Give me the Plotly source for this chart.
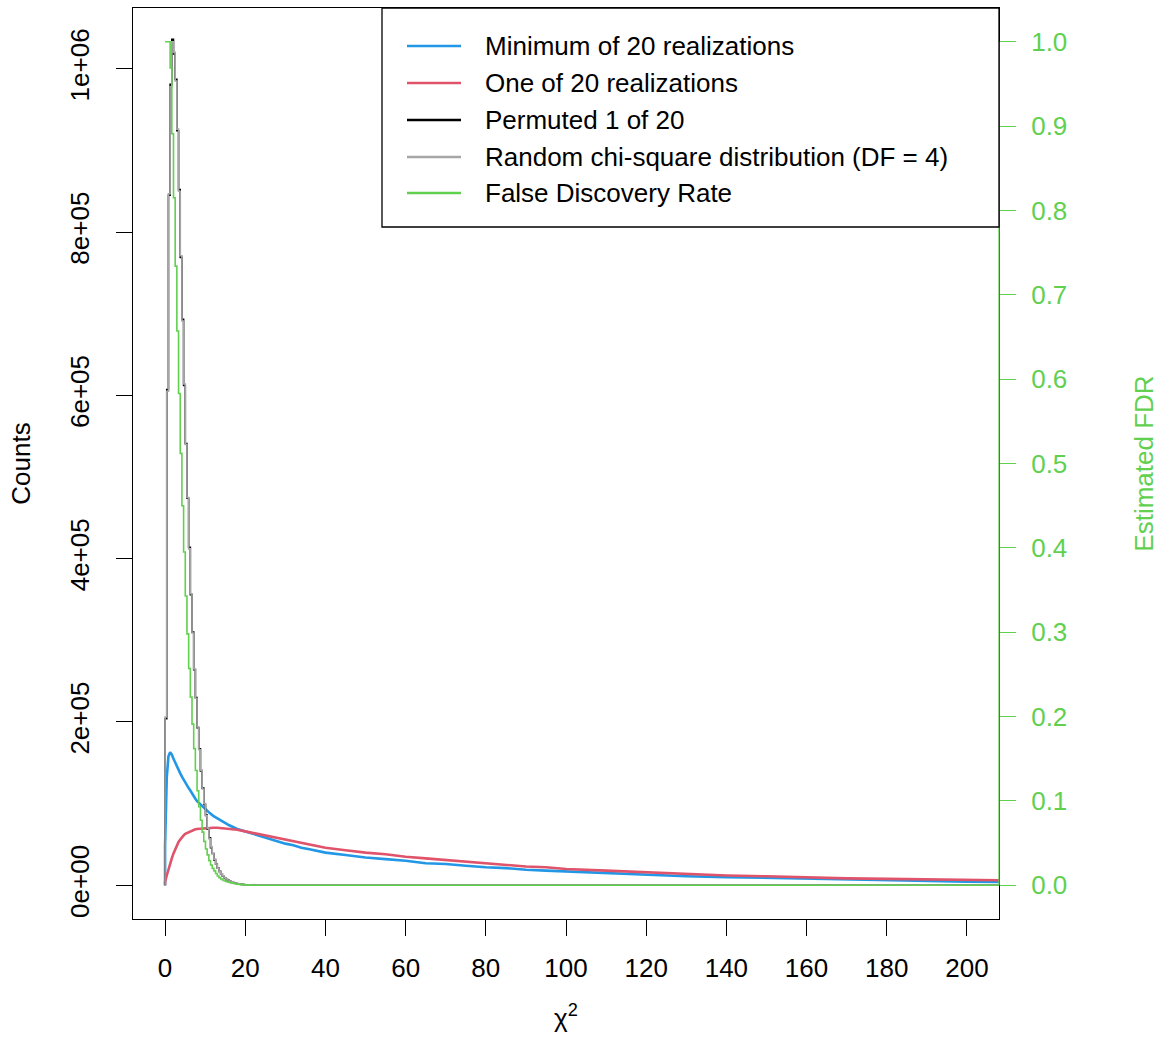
import plotly.graph_objects as go

# Histogram break spacing on the chi-square axis
BIN_WIDTH = 0.42
X_END = 210

# Spike-shaped distributions: counts per bin, bins starting at chi^2 = 0
random_chisq_counts = [206000, 605000, 847000, 978000, 1033000, 1020000, 985000, 926000,
                       850000, 771000, 691000, 614000, 540000, 475000, 412000, 357000,
                       309000, 265000, 229000, 194000, 166000, 141000, 118000, 100000,
                       85000, 70000, 57000, 47000, 39000, 32000, 26000, 21000, 17000,
                       14000, 11500, 9500, 7800, 6400, 5200, 4200, 3400, 2800, 2300,
                       1800, 1500, 1200, 1000, 800, 600, 500, 400, 300, 250, 200, 150,
                       100, 0]
permuted_counts = [204000, 607000, 845000, 981000, 1036000, 1018000, 987000, 924000,
                   852000, 769000, 693000, 612000, 541000, 474000, 414000, 356000,
                   310000, 264000, 230000, 193000, 167000, 140000, 119000, 99000,
                   86000, 69000, 58000, 46000, 39000, 31000, 26000, 21000, 17000,
                   14000, 11000, 9300, 7600, 6300, 5100, 4100, 3300, 2700, 2200,
                   1800, 1400, 1100, 900, 700, 600, 500, 400, 300, 200, 150, 100, 50, 0]
fdr_values = [1.0, 1.0, 1.0, 0.969, 0.891, 0.815, 0.734, 0.657, 0.583, 0.512, 0.450,
              0.395, 0.343, 0.298, 0.257, 0.223, 0.191, 0.162, 0.136, 0.112, 0.093,
              0.077, 0.063, 0.052, 0.043, 0.036, 0.029, 0.024, 0.020, 0.017, 0.014,
              0.011, 0.009, 0.0075, 0.0063, 0.0053, 0.0045, 0.0038, 0.0032, 0.0027,
              0.0023, 0.0019, 0.0016, 0.0013, 0.0011, 0.0009, 0.0007, 0.0005, 0.0004,
              0.0003, 0.0002, 0.0001, 0.0]

# Long-tailed distributions: chi^2 positions and counts
smooth_x = [0, 0.42, 0.84, 1.26, 1.68, 2.10, 2.52, 2.94, 3.36, 3.78, 4.20, 4.62,
            5.04, 5.46, 5.88, 6.30, 6.72, 7.14, 7.56, 7.98, 9, 10, 11, 12, 13, 14,
            15, 16, 18, 20, 22, 24, 26, 28, 30, 32, 34, 36, 38, 40, 45, 50, 55, 60,
            65, 70, 75, 80, 85, 90, 95, 100, 110, 120, 130, 140, 150, 160, 170, 180,
            190, 200, 210]
min20_counts = [48000, 132000, 158000, 163000, 160000, 155000, 150000, 146000, 141000,
                137000, 133000, 129000, 125000, 122000, 119000, 116000, 112000, 109000,
                106000, 103000, 98000, 93000, 89000, 85000, 82000, 79000, 76000, 73500,
                69000, 66000, 63000, 60000, 57000, 54000, 51000, 49000, 46000, 44000,
                42000, 40000, 37000, 34000, 32000, 30000, 27000, 26000, 24000, 22000,
                21000, 19000, 18000, 17000, 15000, 13000, 11000, 10000, 9000, 7800,
                6800, 6000, 5200, 4500, 4000]
one20_counts = [4000, 12000, 20000, 27000, 33000, 39000, 44000, 49000, 53000, 56000,
                59000, 61000, 63000, 64000, 65000, 66000, 67000, 68000, 68500, 69000,
                69500, 70000, 70500, 70500, 70500, 70000, 69800, 69300, 68000, 66000,
                64000, 62500, 60000, 58000, 56500, 54500, 52000, 50000, 48000, 46000,
                43000, 40000, 38000, 35000, 33000, 31000, 29000, 27000, 25000, 23000,
                22000, 20000, 18000, 16000, 14000, 12000, 11000, 9500, 8500, 7800,
                7000, 6500, 6000]

x_ticks = list(range(0, 201, 20))
count_ticks = [0, 200000, 400000, 600000, 800000, 1000000]
count_tick_text = ["0e+00", "2e+05", "4e+05", "6e+05", "8e+05", "1e+06"]
fdr_ticks = [i / 10 for i in range(11)]
fdr_tick_text = [f"{v:.1f}" for v in fdr_ticks]

legend_labels = ["Minimum of 20 realizations", "One of 20 realizations",
                 "Permuted 1 of 20", "Random chi-square distribution (DF = 4)",
                 "False Discovery Rate"]

BLUE, RED, BLACK, GRAY, GREEN = "#2297E6", "#DF536B", "#000000", "#A6A6A6", "#61D04F"
legend_colors = [BLUE, RED, BLACK, GRAY, GREEN]
FONT = "Liberation Sans, Arial, sans-serif"
FS = 26

W, H = 1167, 1047
ML, MR, MT, MB = 133, 168, 8, 128
PW, PH = W - ML - MR, H - MT - MB


def px_x(p):
    return (p - ML) / PW


def px_y(p):
    return (H - MB - p) / PH


def binned_steps(counts, baseline=True):
    xs = [i * BIN_WIDTH for i in range(len(counts))]
    ys = list(counts)
    if baseline:
        xs = [0] + xs
        ys = [0] + ys
    return xs + [X_END], ys + [ys[-1]]


def from_zero(xs, counts):
    return [xs[0]] + list(xs), [0] + list(counts)


fig = go.Figure()

bx, by = from_zero(smooth_x, min20_counts)
fig.add_trace(go.Scatter(x=bx, y=by, mode="lines", line=dict(color=BLUE, width=2.6),
                         name=legend_labels[0], showlegend=False))
rx, ry = from_zero(smooth_x, one20_counts)
fig.add_trace(go.Scatter(x=rx, y=ry, mode="lines", line=dict(color=RED, width=2.6),
                         name=legend_labels[1], showlegend=False))
kx, ky = binned_steps(permuted_counts)
fig.add_trace(go.Scatter(x=kx, y=ky, mode="lines", line=dict(color=BLACK, width=1.6, shape="hv"),
                         name=legend_labels[2], showlegend=False))
gx, gy = binned_steps(random_chisq_counts)
fig.add_trace(go.Scatter(x=gx, y=gy, mode="lines", line=dict(color=GRAY, width=1.6, shape="hv"),
                         name=legend_labels[3], showlegend=False))
fx, fy = binned_steps(fdr_values, baseline=False)
fig.add_trace(go.Scatter(x=fx, y=fy, mode="lines", line=dict(color=GREEN, width=1.6, shape="hv"),
                         name=legend_labels[4], yaxis="y2", showlegend=False))

tick_font = dict(family=FONT, size=FS, color="black")

fig.update_layout(
    width=W, height=H,
    margin=dict(l=ML, r=MR, t=MT, b=MB),
    paper_bgcolor="white", plot_bgcolor="white",
    font=dict(family=FONT, size=FS, color="black"),
    xaxis=dict(range=[-8, 208], tickvals=x_ticks, ticks="outside", ticklen=16,
               tickcolor="black", tickwidth=1, showline=True, linecolor="black",
               linewidth=1.3, mirror=True, showgrid=False, zeroline=False,
               tickfont=tick_font, ticklabelstandoff=10, automargin=False,
               title=dict(text="χ<sup>2</sup>", font=tick_font, standoff=26)),
    yaxis=dict(range=[-41300, 1074400], tickvals=count_ticks, ticktext=count_tick_text,
               tickangle=-90, ticks="outside", ticklen=16, tickcolor="black", tickwidth=1,
               showline=True, linecolor="black", linewidth=1.3, mirror=True,
               showgrid=False, zeroline=False, tickfont=tick_font, ticklabelstandoff=16,
               automargin=False,
               title=dict(text="Counts", font=tick_font, standoff=27)),
    yaxis2=dict(range=[-0.04, 1.04], overlaying="y", side="right", tickvals=fdr_ticks,
                ticktext=fdr_tick_text, ticks="outside", ticklen=16, tickcolor=GREEN,
                tickwidth=1, showline=False, showgrid=False, zeroline=False,
                tickfont=dict(family=FONT, size=FS, color=GREEN), ticklabelstandoff=10,
                automargin=False,
                title=dict(text="Estimated FDR", font=dict(family=FONT, size=FS, color=GREEN),
                           standoff=68)),
)

# Right-hand FDR axis line spans the tick range only
fig.add_shape(type="line", xref="paper", yref="y2", x0=1, x1=1, y0=0, y1=1,
              line=dict(color=GREEN, width=1.3), layer="above")

# Legend box in the upper right of the plotting region
fig.add_shape(type="rect", xref="paper", yref="paper",
              x0=px_x(382), x1=1, y0=px_y(227), y1=1,
              line=dict(color="black", width=1.3), fillcolor="white", layer="above")
row_y = [46, 83, 120, 157, 193]
for label, color, py in zip(legend_labels, legend_colors, row_y):
    fig.add_shape(type="line", xref="paper", yref="paper",
                  x0=px_x(407), x1=px_x(461), y0=px_y(py), y1=px_y(py),
                  line=dict(color=color, width=2.5), layer="above")
    fig.add_annotation(xref="paper", yref="paper", x=px_x(483), y=px_y(py),
                       xanchor="left", yanchor="middle", text=label, showarrow=False,
                       font=dict(family=FONT, size=FS, color="black"))

fig.write_html("out.html")
